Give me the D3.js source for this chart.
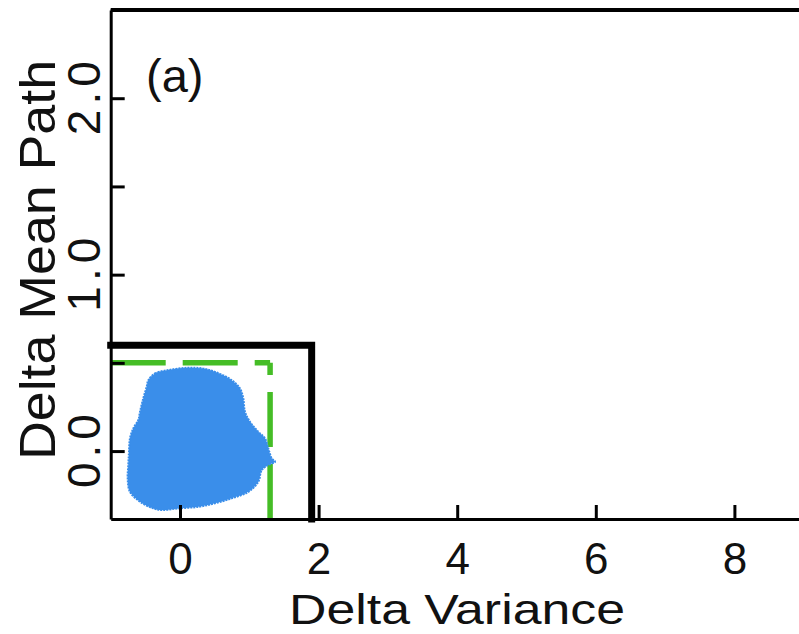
<!DOCTYPE html>
<html>
<head>
<meta charset="utf-8">
<script src="https://cdn.jsdelivr.net/npm/d3@7"></script>
<style>
  html, body { margin: 0; padding: 0; background: #fff; }
  svg { display: block; font-family: "Liberation Sans", Arial, sans-serif; }
</style>
</head>
<body>
<svg id="chart" width="799" height="634"></svg>
<script>
// ---- data ----
const xDomain = [-1, 9];
const yDomain = [-0.385, 2.5];
const xTickValues = [0, 2, 4, 6, 8];
const yTickValues = [0, 0.5, 1, 1.5, 2, 2.5];
const yTickLabels = [0, 1, 2];
const xTitle = "Delta Variance";
const yTitle = "Delta Mean Path";
const panelLabel = "(a)";

// black threshold box: corner at (1.9, 0.6)
const blackBoxX = 1.9;
const blackBoxY = 0.6;
// green dashed threshold: x = 1.3, y = 0.5
const greenX = 1.3;
const greenY = 0.5;

// outline of the blue point cloud (x = delta variance, y = delta mean path)
const cloudX = [-0.457,-0.361,-0.169,0.097,0.313,0.505,0.746,0.866,0.913,0.938,1.010,1.130,1.227,1.274,1.323,1.371,1.274,1.179,1.130,0.986,0.746,0.505,0.264,-0.025,-0.264,-0.385,-0.577,-0.722,-0.755,-0.746,-0.736,-0.722,-0.674,-0.602,-0.577,-0.530,-0.481];
const cloudY = [0.402,0.440,0.459,0.472,0.469,0.449,0.402,0.355,0.299,0.223,0.166,0.109,0.072,0.015,-0.041,-0.061,-0.079,-0.108,-0.174,-0.231,-0.268,-0.296,-0.316,-0.325,-0.334,-0.325,-0.287,-0.231,-0.155,-0.079,-0.004,0.072,0.129,0.176,0.223,0.299,0.364];

// ---- layout ----
const svg = d3.select("#chart");
const x = d3.scaleLinear().domain(xDomain).range([110.7, 803.7]);
const y = d3.scaleLinear().domain(yDomain).range([519, 10]);

const BLUE = "#3a8eea";
const GREEN = "#45bd26";

// green dashed lines (two separate segments)
const line = d3.line().x(d => x(d[0])).y(d => y(d[1]));
svg.append("path")
  .attr("d", line([[xDomain[0], greenY], [greenX, greenY]]))
  .attr("fill", "none").attr("stroke", GREEN).attr("stroke-width", 5.5)
  .attr("stroke-dasharray", "55,17");
svg.append("path")
  .attr("d", line([[greenX, yDomain[0]], [greenX, greenY]]))
  .attr("fill", "none").attr("stroke", GREEN).attr("stroke-width", 5.5)
  .attr("stroke-dasharray", "55,17");

// blue cloud
const cloud = cloudX.map((v, i) => [v, cloudY[i]]);
svg.append("path")
  .attr("d", d3.line().x(d => x(d[0])).y(d => y(d[1])).curve(d3.curveCatmullRomClosed.alpha(0.5))(cloud))
  .attr("fill", BLUE)
  .attr("stroke", BLUE).attr("stroke-width", 2)
  .attr("stroke-dasharray", "2,1");

// black box
svg.append("path")
  .attr("d", line([[xDomain[0], blackBoxY], [blackBoxX, blackBoxY], [blackBoxX, yDomain[0]]]))
  .attr("fill", "none").attr("stroke", "#000").attr("stroke-width", 7)
  .attr("stroke-linecap", "square").attr("stroke-linejoin", "miter");

// top border
svg.append("line")
  .attr("x1", x(xDomain[0])).attr("x2", x(xDomain[1]))
  .attr("y1", y(yDomain[1])).attr("y2", y(yDomain[1]))
  .attr("stroke", "#000").attr("stroke-width", 4);
// right border (beyond visible area)
svg.append("line")
  .attr("x1", x(xDomain[1])).attr("x2", x(xDomain[1]))
  .attr("y1", y(yDomain[0])).attr("y2", y(yDomain[1]))
  .attr("stroke", "#000").attr("stroke-width", 4);

// x axis
const gx = svg.append("g")
  .attr("transform", `translate(0,${y(yDomain[0])})`)
  .call(d3.axisBottom(x).tickValues(xTickValues).tickSizeInner(-14).tickSizeOuter(0).tickPadding(24).tickFormat(d3.format("d")));
gx.select(".domain").attr("stroke", "#000").attr("stroke-width", 3);
gx.selectAll(".tick line").attr("stroke", "#000").attr("stroke-width", 3);
gx.selectAll(".tick text")
  .attr("fill", "#111").attr("font-size", 44)
  .attr("font-family", "'Liberation Sans', Arial, sans-serif");

// y axis
const gy = svg.append("g")
  .attr("transform", `translate(${x(xDomain[0])},0)`)
  .call(d3.axisLeft(y).tickValues(yTickValues).tickSizeInner(-14).tickSizeOuter(0).tickFormat(""));
gy.select(".domain").attr("stroke", "#000").attr("stroke-width", 3);
gy.selectAll(".tick line").attr("stroke", "#000").attr("stroke-width", 3);

// y tick labels (rotated)
svg.append("g").selectAll("text")
  .data(yTickLabels)
  .join("text")
  .attr("transform", d => `translate(100,${y(d)}) rotate(-90)`)
  .attr("text-anchor", "middle")
  .attr("font-size", 46)
  .attr("textLength", 74).attr("lengthAdjust", "spacing")
  .attr("fill", "#111")
  .text(d => d3.format(".1f")(d));

// axis titles
svg.append("text")
  .attr("x", 457).attr("y", 624)
  .attr("text-anchor", "middle")
  .attr("font-size", 42)
  .attr("textLength", 336).attr("lengthAdjust", "spacingAndGlyphs")
  .attr("fill", "#111")
  .text(xTitle);

svg.append("text")
  .attr("transform", `translate(55,260) rotate(-90)`)
  .attr("text-anchor", "middle")
  .attr("font-size", 50)
  .attr("textLength", 400).attr("lengthAdjust", "spacingAndGlyphs")
  .attr("fill", "#111")
  .text(yTitle);

// panel label
svg.append("text")
  .attr("x", 146).attr("y", 92)
  .attr("font-size", 47)
  .attr("fill", "#111")
  .text(panelLabel);
</script>
</body>
</html>
